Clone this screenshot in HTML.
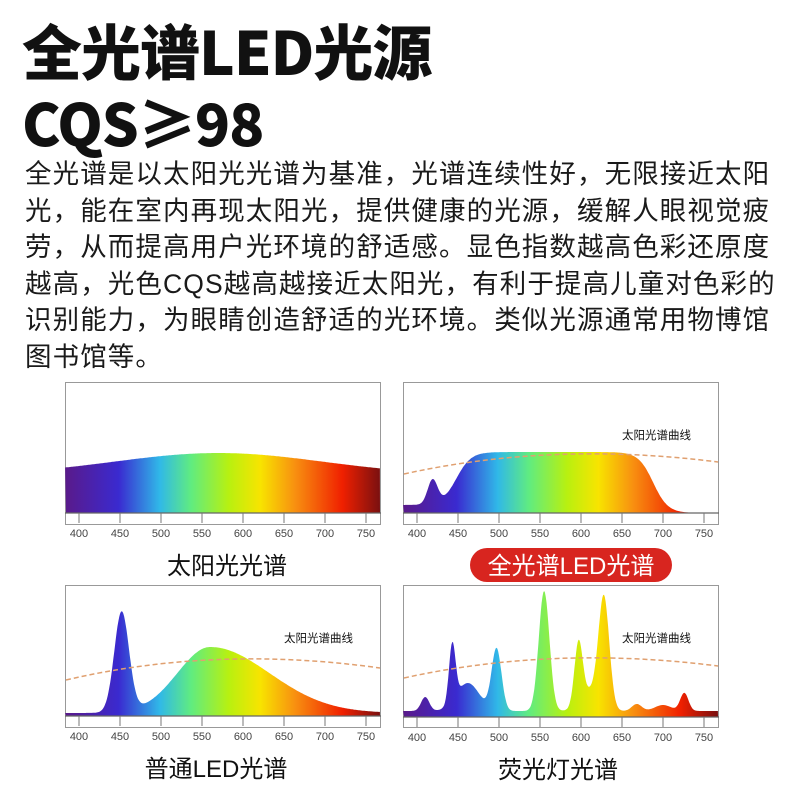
<!DOCTYPE html>
<html><head><meta charset="utf-8"><style>
body{margin:0;width:800px;height:800px;background:#fff;overflow:hidden;font-family:"Liberation Sans","Noto Sans CJK SC",sans-serif;color:#111}
.t{position:absolute;left:22px;font-weight:900;font-size:60px;line-height:1;font-family:"Noto Sans CJK SC",sans-serif;letter-spacing:-1px}
.p{position:absolute;left:25px;top:156px;font-size:26.5px;line-height:36.6px;letter-spacing:1.1px;color:#1a1a1a;white-space:nowrap}
svg{position:absolute;left:0;top:0}
</style></head><body>
<div class="t" style="top:20px">全光谱LED光源</div>
<div class="t" style="top:92px;font-size:58px">CQS≥98</div>
<div class="p">全光谱是以太阳光光谱为基准，光谱连续性好，无限接近太阳<br>光，能在室内再现太阳光，提供健康的光源，缓解人眼视觉疲<br>劳，从而提高用户光环境的舒适感。显色指数越高色彩还原度<br>越高，光色CQS越高越接近太阳光，有利于提高儿童对色彩的<br>识别能力，为眼睛创造舒适的光环境。类似光源通常用物博馆<br>图书馆等。</div>
<svg id="s" width="800" height="800" xmlns="http://www.w3.org/2000/svg"></svg>
<script>
const S=document.getElementById('s');
let h='<defs><linearGradient id="g" x1="0" x2="1" y1="0" y2="0">';
[[0,'#5a1a8a'],[.17,'#3a2ad0'],[.3,'#30b8e8'],[.4,'#60ec80'],[.52,'#b8f010'],[.62,'#f8e400'],[.73,'#f89010'],[.88,'#f02000'],[1,'#7a1010']].forEach(s=>h+=`<stop offset="${s[0]}" stop-color="${s[1]}"/>`);
h+='</linearGradient></defs>';
function G(n,c,a,s){return a*Math.exp(-(n-c)*(n-c)/(2*s*s));}
function sg(x){return 1/(1+Math.exp(-x));}
function panel(x0,y0,base,f,dash,label,cap,pill,cx){
 const X=n=>x0+14+(n-400)*0.82;
 h+=`<rect x="${x0}.5" y="${y0}.5" width="315" height="142" fill="#fff" stroke="#999"/>`;
 let d=`M${x0+1},${base}`;
 for(let n=383;n<=767;n+=1){d+=`L${X(n).toFixed(1)},${Math.max(y0+2,base-f(n)).toFixed(1)}`;}
 d+=`L${x0+315},${base}Z`;
 h+=`<path d="${d}" fill="url(#g)"/>`;
 if(dash)h+=`<path d="M${x0+1},${dash[0]} Q${x0+150},${dash[1]-12} ${x0+315},${dash[2]}" fill="none" stroke="#e0a070" stroke-width="1.5" stroke-dasharray="5,3"/>`;
 h+=`<line x1="${x0}" x2="${x0+316}" y1="${base}" y2="${base}" stroke="#666" stroke-width="1.2"/>`;
 for(let n=400;n<=750;n+=50){h+=`<line x1="${X(n)}" x2="${X(n)}" y1="${base}" y2="${base+10}" stroke="#777"/>`;
  h+=`<text x="${X(n)}" y="${base+24}" font-size="11" fill="#444" text-anchor="middle" font-family="Liberation Sans">${n}</text>`;}
 if(label)h+=`<text x="${x0+219}" y="${y0+57}" font-size="11.5" fill="#111" font-family="Liberation Sans,Noto Sans CJK SC">太阳光谱曲线</text>`;
 if(pill){h+=`<rect x="${cx-101}" y="${base+35}" width="202" height="34" rx="17" fill="#d8251f"/>`;}
 h+=`<text x="${cx}" y="${base+61}" font-size="24" fill="${pill?'#fff':'#111'}" text-anchor="middle" font-family="Liberation Sans,Noto Sans CJK SC">${cap}</text>`;
}
panel(65,382,513,n=>38+22*Math.exp(-Math.pow((n-570)/180,2)),null,false,'太阳光光谱',false,227);
panel(403,382,513,n=>{return 53*sg((n-448)/9)*sg((688-n)/9)+G(n,419,24,6)+8*sg((688-n)/9);},[474,453,462],true,'全光谱LED光谱',true,571);
panel(65,585,716,n=>{let s=n<560?40:72;return 3+G(n,452,100,9)+66*Math.exp(-(n-560)*(n-560)/(2*s*s));},[680,657,668],true,'普通LED光谱',false,216);
panel(403,585,717,n=>6+G(n,410,14,5)+G(n,443,58,4)+G(n,462,28,14)+G(n,497,62,6)+G(n,555,120,6.5)+G(n,597,62,5)+G(n,628,108,6.5)+G(n,612,20,12)+G(n,668,7,6)+G(n,700,6,10)+G(n,726,18,5),[678,657,666],true,'荧光灯光谱',false,558);
S.innerHTML=h;
</script>
</body></html>
